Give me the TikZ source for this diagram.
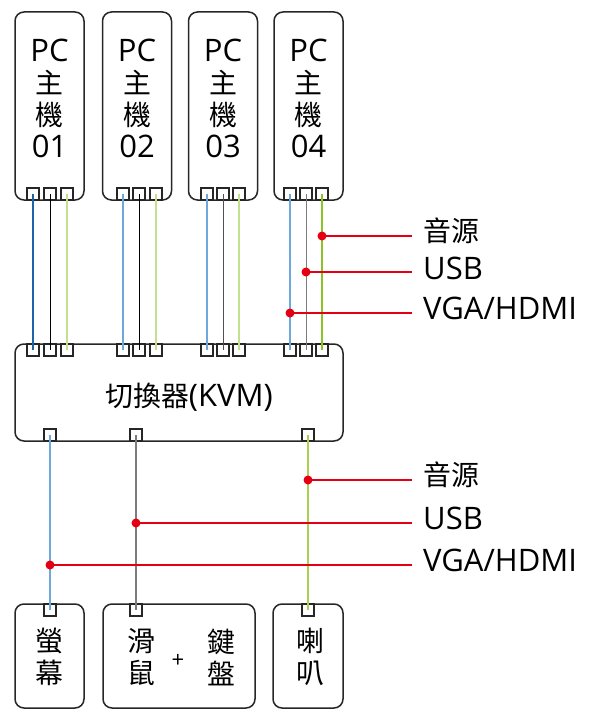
\documentclass[tikz,border=0pt]{standalone}
\usepackage{fontspec}
\setmainfont{Open Sans}
\newfontfamily\cjk[Scale=0.9]{Noto Sans CJK TC}
\usetikzlibrary{positioning}

\definecolor{vgablue}{RGB}{111,168,220}
\definecolor{vgadark}{RGB}{30,100,170}
\definecolor{usbgray}{RGB}{125,125,125}
\definecolor{usbdark}{RGB}{80,80,80}
\definecolor{audiopale}{RGB}{195,225,140}
\definecolor{audiolime}{RGB}{140,195,40}
\definecolor{audiogreen}{RGB}{170,210,80}
\definecolor{tapred}{RGB}{228,0,18}

\begin{document}
\begin{tikzpicture}[
            x=1pt, y=-1pt,
            font=\fontsize{31}{32}\selectfont,
            box/.style={draw=black!85, line width=1.5pt, rounded corners=9pt, inner sep=0pt},
            port/.style={draw=black!85, line width=1.2pt, fill=white, minimum size=12pt, inner sep=0pt},
            wire/.style={line width=1.4pt},
            tap/.style={circle, fill=tapred, minimum size=9pt, inner sep=0pt},
            tapline/.style={draw=tapred, line width=2pt},
            tag/.style={anchor=west, inner xsep=11pt, inner ysep=0pt}
        ]
        \useasboundingbox (0,0) rectangle (591,722);

        % ======================================
        % Boxes
        % ======================================
        % PC hosts
        \foreach \i / \x in {1/49.5, 2/137, 3/223, 4/308.5}
        \node[box, minimum width=69pt, minimum height=188pt] (pc\i) at (\x,106) {};

        \foreach \i / \x in {1/49.5, 2/137, 3/223, 4/308.5}
        \node[align=center] (pclbl\i) at (\x,98) {PC\\{\cjk 主}\\{\cjk 機}\\0\i};

        % KVM switch
        \node[box, minimum width=328pt, minimum height=97pt] (kvm) at (179,392.5) {};
        \node (kvmlbl) at (189,397) {{\cjk 切換器}(KVM)};

        % devices
        \node[box, minimum width=69pt, minimum height=104pt] (mon) at (49.5,656) {};
        \node[box, minimum width=152pt, minimum height=104pt] (kbd) at (179,656) {};
        \node[box, minimum width=70pt, minimum height=104pt] (spk) at (308,656) {};

        \node[align=center] (monlbl) at (49.5,657) {{\cjk 螢}\\{\cjk 幕}};
        \node[align=center] (mouselbl) at (141.5,657) {{\cjk 滑}\\{\cjk 鼠}};
        \node[font=\fontsize{22}{24}\selectfont] (pluslbl) at (178,661) {+};
        \node[align=center] (keylbl) at (221.5,657) {{\cjk 鍵}\\{\cjk 盤}};
        \node[align=center] (spklbl) at (310.5,657) {{\cjk 喇}\\{\cjk 叭}};

        % ======================================
        % Ports
        % ======================================
        % PC -> KVM
        \foreach \i / \a / \b / \c in {1/33/50/67, 2/123/139/156, 3/207/223/239, 4/290/306/322}
        {
            \node[port] (pc\i-v) at (\a,194) {};
            \node[port] (pc\i-u) at (\b,194) {};
            \node[port] (pc\i-a) at (\c,194) {};
            \node[port] (kvm\i-v) at (\a,350) {};
            \node[port] (kvm\i-u) at (\b,350) {};
            \node[port] (kvm\i-a) at (\c,350) {};
        }

        % KVM -> devices
        \node[port] (kvm-v) at (50,435) {};
        \node[port] (kvm-u) at (136,435) {};
        \node[port] (kvm-a) at (308,435) {};
        \node[port] (mon-in) at (50,610) {};
        \node[port] (kbd-in) at (136,610) {};
        \node[port] (spk-in) at (308,610) {};

        % ======================================
        % Cables
        % ======================================
        \foreach \i / \cv / \cu / \ca in {1/vgadark/black/audiopale, 2/vgablue/black/audiopale,
                                          3/vgablue/usbdark/audiopale, 4/vgablue/usbgray/audiolime}
        {
            \draw[wire, \cv] (pc\i-v.center) -- (kvm\i-v.center);
            \draw[wire, \cu, line width=1pt] (pc\i-u.center) -- (kvm\i-u.center);
            \draw[wire, \ca] (pc\i-a.center) -- (kvm\i-a.center);
        }

        \draw[wire, vgablue] (kvm-v.center) -- (mon-in.center);
        \draw[wire, usbgray] (kvm-u.center) -- (kbd-in.center);
        \draw[wire, audiogreen] (kvm-a.center) -- (spk-in.center);

        % ======================================
        % Cable labels
        % ======================================
        % upper group
        \node[tap] (tapA) at (322,236) {};
        \node[tap] (tapU) at (306,272) {};
        \node[tap] (tapV) at (290,313) {};
        \node[tag] (topA) at (412,231) {\cjk 音源};
        \node[tag] (topU) at (412,268) {USB};
        \node[tag] (topV) at (412,308) {VGA/HDMI};
        \draw[tapline] (tapA.center) -- (tapA -| topA.west);
        \draw[tapline] (tapU.center) -- (tapU -| topU.west);
        \draw[tapline] (tapV.center) -- (tapV -| topV.west);

        % lower group
        \node[tap] (tapa) at (308,480) {};
        \node[tap] (tapu) at (136,523) {};
        \node[tap] (tapv) at (50,565) {};
        \node[tag] (lowA) at (412,475) {\cjk 音源};
        \node[tag] (lowU) at (412,518) {USB};
        \node[tag] (lowV) at (412,560) {VGA/HDMI};
        \draw[tapline] (tapa.center) -- (tapa -| lowA.west);
        \draw[tapline] (tapu.center) -- (tapu -| lowU.west);
        \draw[tapline] (tapv.center) -- (tapv -| lowV.west);

    \end{tikzpicture}
\end{document}
